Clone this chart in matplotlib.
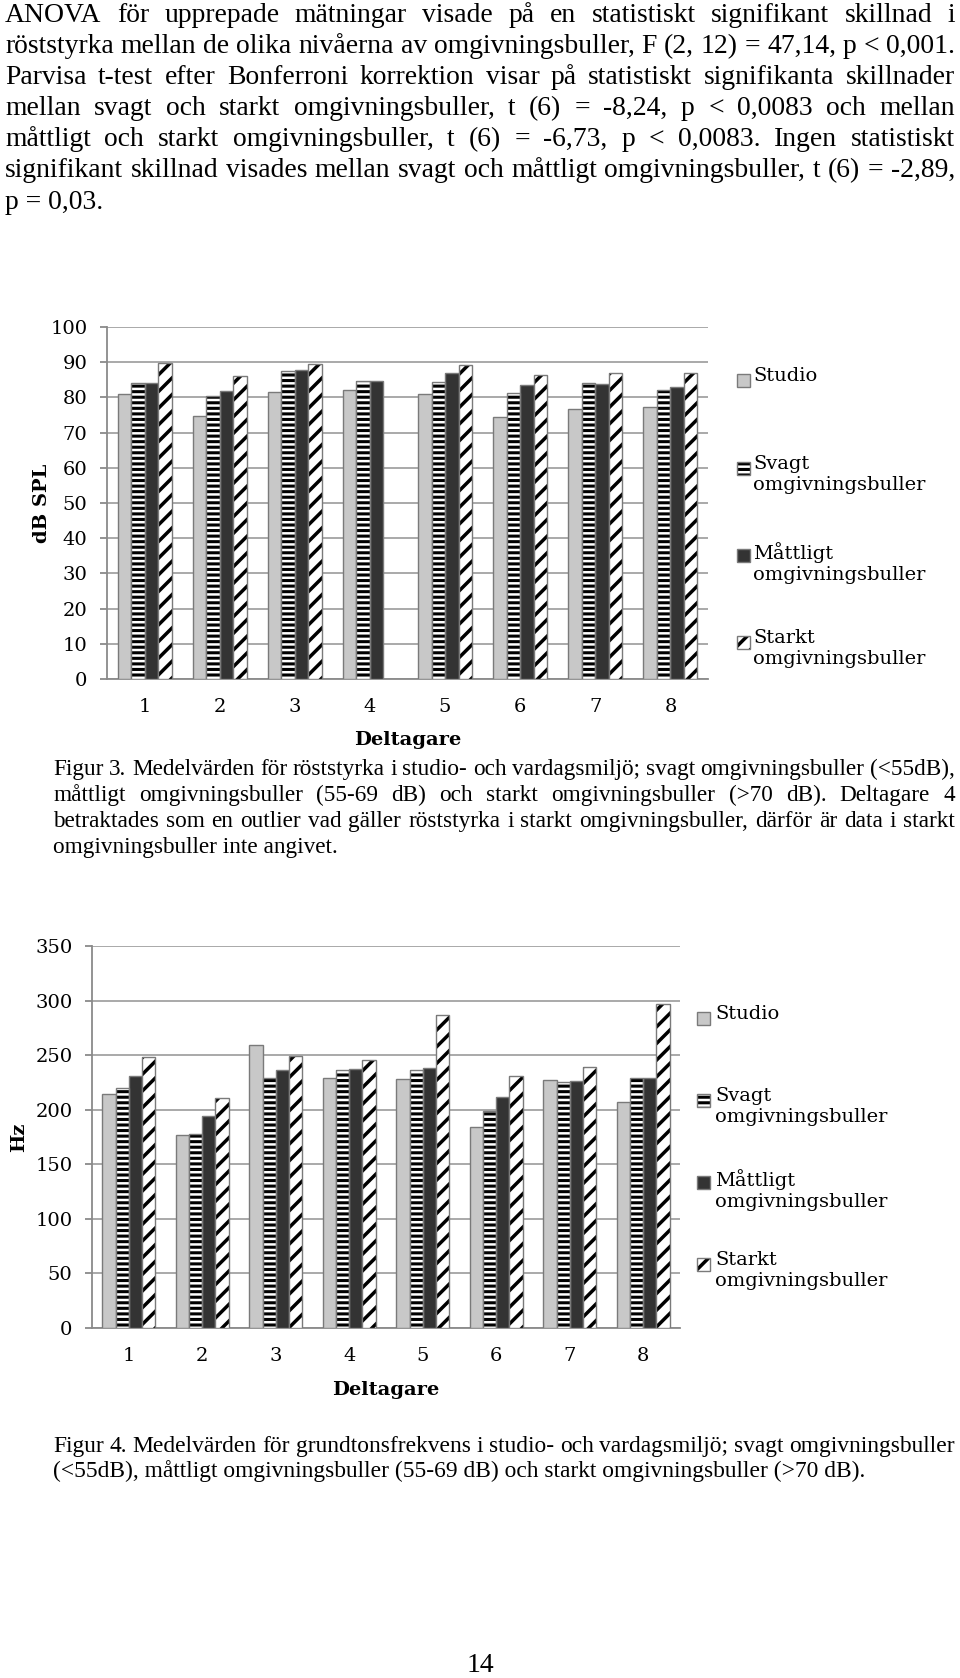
import numpy as np
import matplotlib
matplotlib.use('Agg')
import matplotlib.pyplot as plt
from matplotlib.patches import Rectangle
from matplotlib.font_manager import FontProperties

# data avläst ur figurerna
deltagare = ['1', '2', '3', '4', '5', '6', '7', '8']
serier = ['Studio', 'Svagt\nomgivningsbuller', 'Måttligt\nomgivningsbuller', 'Starkt\nomgivningsbuller']

db_studio = [81.1, 74.7, 81.6, 82.2, 80.9, 74.3, 76.7, 77.3]
db_svagt = [84.1, 80.3, 87.5, 84.6, 84.4, 81.3, 84.1, 82.0]
db_mattligt = [84.1, 81.9, 87.9, 84.6, 86.8, 83.5, 83.9, 83.0]
db_starkt = [89.8, 86.0, 89.6, np.nan, 89.1, 86.3, 86.8, 87.0]  # deltagare 4 saknas

hz_studio = [214, 177, 259, 229, 228, 184, 227, 207]
hz_svagt = [220, 178, 229, 236, 236, 199, 225, 229]
hz_mattligt = [231, 194, 236, 237, 238, 212, 226, 229]
hz_starkt = [248, 211, 249, 246, 287, 231, 239, 297]

text_top = [
    'ANOVA för upprepade mätningar visade på en statistiskt signifikant skillnad i',
    'röststyrka mellan de olika nivåerna av omgivningsbuller, F (2, 12) = 47,14, p < 0,001.',
    'Parvisa t-test efter Bonferroni korrektion visar på statistiskt signifikanta skillnader',
    'mellan svagt och starkt omgivningsbuller, t (6) = -8,24, p < 0,0083 och mellan',
    'måttligt och starkt omgivningsbuller, t (6) = -6,73, p < 0,0083. Ingen statistiskt',
    'signifikant skillnad visades mellan svagt och måttligt omgivningsbuller, t (6) = -2,89,',
    'p = 0,03.',
]
text_fig3 = [
    'Figur 3. Medelvärden för röststyrka i studio- och vardagsmiljö; svagt omgivningsbuller (<55dB),',
    'måttligt omgivningsbuller (55-69 dB) och starkt omgivningsbuller (>70 dB). Deltagare 4',
    'betraktades som en outlier vad gäller röststyrka i starkt omgivningsbuller, därför är data i starkt',
    'omgivningsbuller inte angivet.',
]
text_fig4 = [
    'Figur 4. Medelvärden för grundtonsfrekvens i studio- och vardagsmiljö; svagt omgivningsbuller',
    '(<55dB), måttligt omgivningsbuller (55-69 dB) och starkt omgivningsbuller (>70 dB).',
]

W, H = 960, 1678
plt.rcParams['font.family'] = 'DejaVu Serif'
plt.rcParams['hatch.linewidth'] = 2.3

# (fyllnad, mönster, mönstrets linjebredd)
stil = [('#c8c8c8', '', 0), ('white', '---', 2.2), ('#333333', '', 0), ('white', '//', 2.5)]
kant = '#7a7a7a'
fs = 14

fig = plt.figure(figsize=(W / 100, H / 100), dpi=100)
r = fig.canvas.get_renderer()


def fx(x):
    return x / W


def fy(y):
    return 1 - y / H


def hatch_lw(p, lw):
    if lw and hasattr(p, 'set_hatch_linewidth'):
        p.set_hatch_linewidth(lw)


def rita(ax, data, ymax, ystep, ylabel, ylab_x, xlab_y):
    x = np.arange(1, 9)
    w = 0.18
    for k, (vals, (fc, hatch, hlw)) in enumerate(zip(data, stil)):
        pos = x + (k - 1.5) * w
        if hatch:
            bars = ax.bar(pos, vals, w, color=fc, hatch=hatch, edgecolor='black', linewidth=0, zorder=3)
            for p in bars:
                hatch_lw(p, hlw)
            ax.bar(pos, vals, w, fill=False, edgecolor=kant, linewidth=1, zorder=4)
        else:
            ax.bar(pos, vals, w, color=fc, edgecolor=kant, linewidth=1, zorder=3)
    ax.set_xlim(0.5, 8.5)
    ax.set_ylim(0, ymax)
    ax.set_yticks(np.arange(0, ymax + 1, ystep))
    ax.set_xticks(x)
    ax.set_xticklabels(deltagare)
    ax.yaxis.grid(True, color='#a3a3a3', lw=1.3)
    ax.set_axisbelow(True)
    for s in ['top', 'right']:
        ax.spines[s].set_visible(False)
    for s in ['left', 'bottom']:
        ax.spines[s].set_color('#8a8a8a')
        ax.spines[s].set_linewidth(1.3)
    ax.tick_params(axis='y', length=5, width=1.3, color='#8a8a8a', pad=9, labelsize=fs)
    ax.tick_params(axis='x', length=0, pad=14, labelsize=fs)
    ax.set_xlabel('Deltagare', fontsize=fs, fontweight='bold')
    ax.xaxis.set_label_coords(0.5, xlab_y)
    ax.set_ylabel(ylabel, fontsize=fs, fontweight='bold')
    ax.yaxis.label.set_verticalalignment('center')
    ax.yaxis.set_label_coords(ylab_x, 0.5)


def legend(mx, tx, ys):
    for (fc, hatch, hlw), namn, y in zip(stil, serier, ys):
        ruta = Rectangle((fx(mx), fy(y + 6)), 13 / W, 13 / H, transform=fig.transFigure,
                         facecolor=fc, hatch=hatch, edgecolor='black' if hatch else kant,
                         linewidth=0 if hatch else 1)
        hatch_lw(ruta, hlw)
        fig.add_artist(ruta)
        if hatch:
            fig.add_artist(Rectangle((fx(mx), fy(y + 6)), 13 / W, 13 / H, transform=fig.transFigure,
                                     fill=False, edgecolor=kant, linewidth=1))
        fig.text(fx(tx), fy(y - 14), namn, fontsize=fs, va='top', ha='left', linespacing=1.2)


# Figur 3
ax1 = fig.add_axes([fx(107), fy(679), 601 / W, 352 / H])
rita(ax1, [db_studio, db_svagt, db_mattligt, db_starkt], 100, 10, 'dB SPL',
     (42 - 107) / 601, -(731 - 679) / 352)
legend(737, 753, [381, 469, 556, 643])

# Figur 4
ax2 = fig.add_axes([fx(92), fy(1328), 588 / W, 382 / H])
rita(ax2, [hz_studio, hz_svagt, hz_mattligt, hz_starkt], 350, 50, 'Hz',
     (19 - 92) / 588, -(1381 - 1328) / 382)
legend(697, 715, [1019, 1101, 1183, 1265])


def bredd(s, prop):
    return r.get_text_width_height_descent(s, prop, ismath=False)[0]


def textblock(rader, ys, x0, x1):
    bas = FontProperties(family='Liberation Serif', size=10)
    maxw = max(bredd(t, bas) for t in rader[:-1])
    size = 10 * (x1 - x0) / maxw
    prop = FontProperties(family='Liberation Serif', size=size)
    off = 0.33 * size * 100 / 72
    for i, (rad, y) in enumerate(zip(rader, ys)):
        if i == len(rader) - 1:
            fig.text(fx(x0), fy(y + off), rad, fontproperties=prop, va='baseline', ha='left')
            continue
        ord_ = rad.split(' ')
        bw = [bredd(o, prop) for o in ord_]
        gap = (x1 - x0 - sum(bw)) / (len(ord_) - 1)
        x = x0
        for o, b in zip(ord_, bw):
            fig.text(fx(x), fy(y + off), o, fontproperties=prop, va='baseline', ha='left')
            x += b + gap
    return size


s = textblock(text_top, [13, 44, 75, 106, 137, 168, 200], 5, 955)
textblock(text_fig3, [767, 793, 819, 845], 53, 955)
textblock(text_fig4, [1444, 1469], 53, 955)
fig.text(0.5, fy(1666), '14', fontproperties=FontProperties(family='Liberation Serif', size=s),
         ha='center', va='center')

fig.savefig('out.png', dpi=100)
